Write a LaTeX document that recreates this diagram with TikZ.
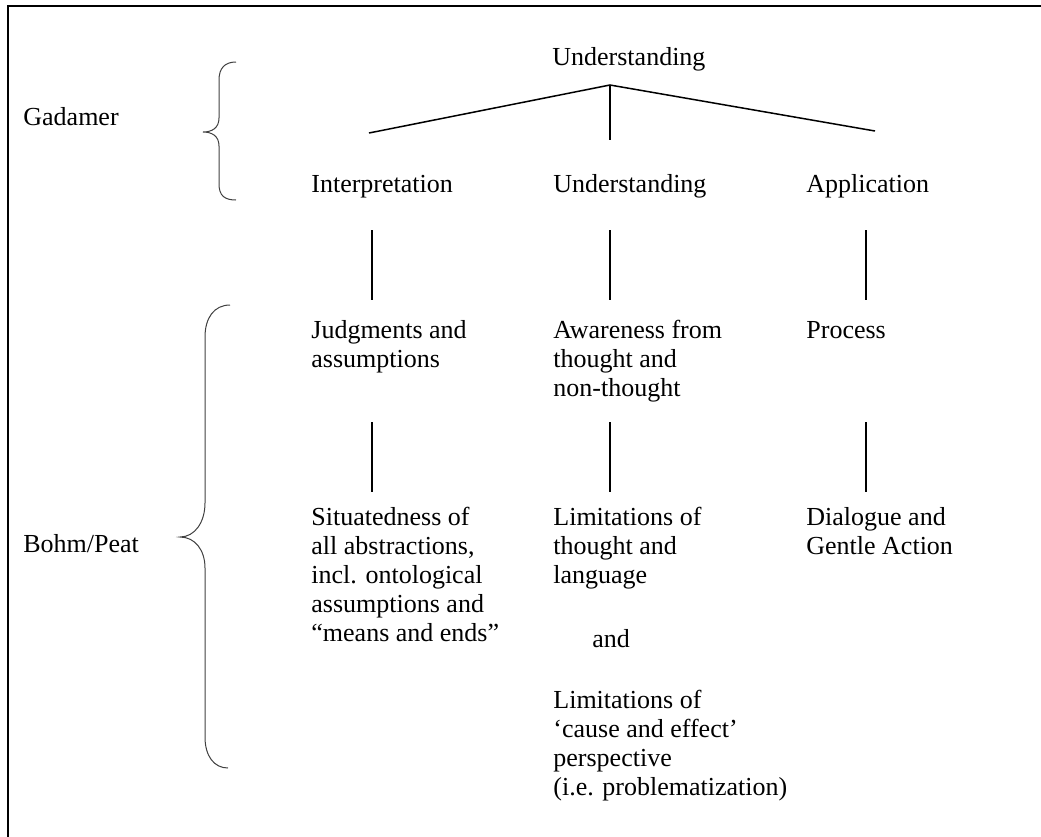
\documentclass[tikz,border=0pt]{standalone}
\usepackage{fontspec}
\setmainfont{Liberation Serif}
\newcommand{\lines}[1]{\begin{tabular}[t]{@{}l@{}}#1\end{tabular}}

\begin{document}
\begin{tikzpicture}[x=0.5pt, y=-0.5pt,
every node/.style={font=\fontsize{13}{14.5}\selectfont, inner sep=0pt},
txt/.style={anchor=base west},
link/.style={line width=0.75pt},
curly/.style={line width=0.5pt, black!75}]
\useasboundingbox (0,0) rectangle (1041,837);
% frame, cut off at the right and bottom
\draw[line width=1pt] (8,837) -- (8,6) -- (1041,6);

% left labels and braces
\node[txt] (gadamer) at (23,125) {Gadamer};
\node[txt] (bohm) at (23,552) {Bohm/Peat};
\draw[curly] (236,62) .. controls (225,62) and (219,68) .. (219,80) -- (219,118)
  .. controls (219,128) and (212,132) .. (203,132)
  .. controls (212,132) and (219,136) .. (219,146) -- (219,184)
  .. controls (219,196) and (225,200) .. (236,200);
\draw[curly] (230,305) .. controls (214,305) and (205,318) .. (205,337) -- (205,503)
  .. controls (205,522) and (195,537) .. (180,537)
  .. controls (195,537) and (205,550) .. (205,568) -- (205,737)
  .. controls (205,756) and (214,768) .. (228,768);

% Gadamer
\node[txt] (root) at (552,65) {Understanding};
\node[txt] (interp) at (311,192) {Interpretation};
\node[txt] (underst) at (553,192) {Understanding};
\node[txt] (applic) at (806,192) {Application};
\coordinate (apex) at (610,85);
\coordinate (fl) at (369,133);
\coordinate (fm) at (610,140);
\coordinate (fr) at (875,131);
\draw[link] (fl) -- (apex) -- (fr);
\draw[link] (apex) -- (fm);

% Bohm/Peat
\node[txt] (judg) at (311,338) {\lines{Judgments and\\assumptions}};
\node[txt] (aware) at (553,338) {\lines{Awareness from\\thought and\\non-thought}};
\node[txt] (proc) at (806,338) {Process};
\node[txt] (situ) at (311,525) {\lines{Situatedness of\\all abstractions,\\incl. ontological\\assumptions and\\“means and ends”}};
\node[txt] (limthought) at (553,525) {\lines{Limitations of\\thought and\\language}};
\node[txt] (and) at (592,647) {and};
\node[txt] (limcause) at (553,708) {\lines{Limitations of\\‘cause and effect’\\perspective\\(i.e. problematization)}};
\node[txt] (dial) at (806,525) {\lines{Dialogue and\\Gentle Action}};

% vertical links
\foreach \x/\n in {372/a,610/b,866/c}{
  \coordinate (\n1) at (\x,230);
  \coordinate (\n2) at (\x,300);
  \coordinate (\n3) at (\x,422);
  \coordinate (\n4) at (\x,492);
  \draw[link] (\n1) -- (\n2);
  \draw[link] (\n3) -- (\n4);
}
\end{tikzpicture}
\end{document}
